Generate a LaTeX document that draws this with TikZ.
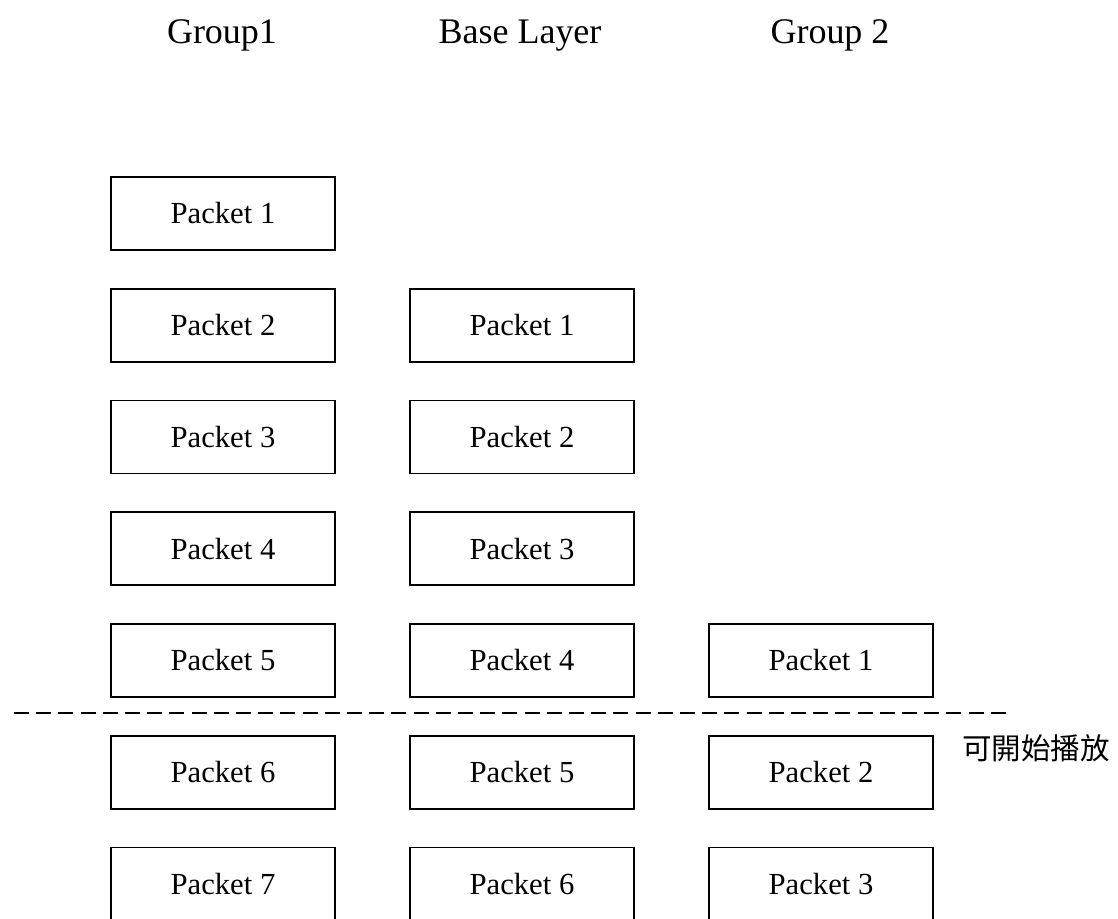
\documentclass[tikz,border=0pt]{standalone}
\usepackage{fontspec}
\setmainfont{Liberation Serif}
\newfontfamily\cjkfont{Noto Sans CJK TC}
\tikzset{
  packet/.style={draw, line width=1.1pt, minimum width=5.6cm, minimum height=1.825cm,
    inner sep=0pt, font=\fontsize{21.8}{26}\selectfont},
  header/.style={font=\fontsize{25.6}{30}\selectfont},
}
\begin{document}
\begin{tikzpicture}
\useasboundingbox (0,0) rectangle (27.95,-22.95);
% column titles
\node[header] (t1) at (5.55,-0.88) {Group1};
\node[header] (t2) at (13.0,-0.88) {Base Layer};
\node[header] (t3) at (20.75,-0.88) {Group 2};
% Group1
\foreach \i in {1,...,7}
    \node[packet] (g1p\i) at (5.575,-5.3375-2.79375*\i+2.79375) {Packet \i};
% Base Layer
\foreach \i in {1,...,6}
    \node[packet] (blp\i) at (13.05,-8.13125-2.79375*\i+2.79375) {Packet \i};
% Group 2
\foreach \i in {1,...,3}
    \node[packet] (g2p\i) at (20.525,-16.5125-2.79375*\i+2.79375) {Packet \i};
% playback line
\coordinate (ls) at (0.35,-17.82);
\coordinate (le) at (25.15,-17.82);
\draw[line width=1.1pt, dash pattern=on 0.375cm off 0.18cm] (ls) -- (le);
\node[font=\cjkfont\fontsize{21}{25}\selectfont] (play) at (25.9,-18.7) {可開始播放};
\end{tikzpicture}
\end{document}
